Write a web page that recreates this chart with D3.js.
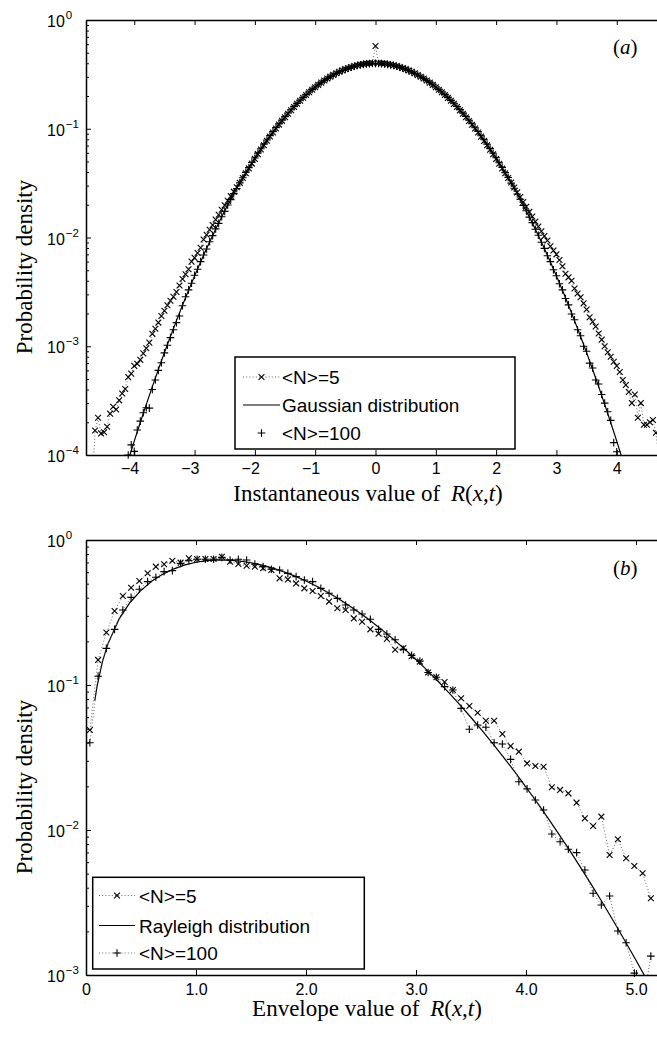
<!DOCTYPE html>
<html>
<head>
<meta charset="utf-8">
<script src="https://cdn.jsdelivr.net/npm/d3@7"></script>
<style>
  body { margin: 0; background: #fff; }
  svg { display: block; }
  text { white-space: pre; }
</style>
</head>
<body>
<svg id="fig" width="657" height="1037"></svg>
<script>
// ---------- (a) instantaneous value: histogram bin centres ----------
const instBins = [
  -4.70,-4.65,-4.60,-4.55,-4.50,-4.45,-4.40,-4.35,-4.30,-4.25,
  -4.20,-4.15,-4.10,-4.05,-4.00,-3.95,-3.90,-3.85,-3.80,-3.75,
  -3.70,-3.65,-3.60,-3.55,-3.50,-3.45,-3.40,-3.35,-3.30,-3.25,
  -3.20,-3.15,-3.10,-3.05,-3.00,-2.95,-2.90,-2.85,-2.80,-2.75,
  -2.70,-2.65,-2.60,-2.55,-2.50,-2.45,-2.40,-2.35,-2.30,-2.25,
  -2.20,-2.15,-2.10,-2.05,-2.00,-1.95,-1.90,-1.85,-1.80,-1.75,
  -1.70,-1.65,-1.60,-1.55,-1.50,-1.45,-1.40,-1.35,-1.30,-1.25,
  -1.20,-1.15,-1.10,-1.05,-1.00,-0.95,-0.90,-0.85,-0.80,-0.75,
  -0.70,-0.65,-0.60,-0.55,-0.50,-0.45,-0.40,-0.35,-0.30,-0.25,
  -0.20,-0.15,-0.10,-0.05, 0.00, 0.05, 0.10, 0.15, 0.20, 0.25,
   0.30, 0.35, 0.40, 0.45, 0.50, 0.55, 0.60, 0.65, 0.70, 0.75,
   0.80, 0.85, 0.90, 0.95, 1.00, 1.05, 1.10, 1.15, 1.20, 1.25,
   1.30, 1.35, 1.40, 1.45, 1.50, 1.55, 1.60, 1.65, 1.70, 1.75,
   1.80, 1.85, 1.90, 1.95, 2.00, 2.05, 2.10, 2.15, 2.20, 2.25,
   2.30, 2.35, 2.40, 2.45, 2.50, 2.55, 2.60, 2.65, 2.70, 2.75,
   2.80, 2.85, 2.90, 2.95, 3.00, 3.05, 3.10, 3.15, 3.20, 3.25,
   3.30, 3.35, 3.40, 3.45, 3.50, 3.55, 3.60, 3.65, 3.70, 3.75,
   3.80, 3.85, 3.90, 3.95, 4.00, 4.05, 4.10, 4.15, 4.20, 4.25,
   4.30, 4.35, 4.40, 4.45, 4.50, 4.55, 4.60, 4.65, 4.70
];

// <N>=5 probability density
const instN5 = [
  0.000050,0.000168,0.000220,0.000158,0.000162,0.000182,0.000240,0.000278,0.000262,0.000318,
  0.000368,0.000405,0.000520,0.000560,0.000660,0.000690,0.000750,0.000860,0.000960,0.00108,
  0.00130,0.00145,0.00165,0.00190,0.00212,0.00238,0.00262,0.00285,0.00315,0.00362,
  0.00415,0.00460,0.00510,0.00600,0.00650,0.00720,0.00805,0.00960,0.0106,0.0118,
  0.0130,0.0146,0.0162,0.0180,0.0198,0.0218,0.0240,0.0264,0.0290,0.0318,
  0.0352,0.0390,0.0432,0.0478,0.0528,0.0584,0.0644,0.0706,0.0775,0.0848,
  0.0925,0.1006,0.1092,0.1182,0.1276,0.1374,0.1478,0.1585,0.1695,0.1808,
  0.1925,0.2043,0.2164,0.2287,0.2410,0.2533,0.2656,0.2778,0.2898,0.3014,
  0.3128,0.3238,0.3342,0.3442,0.3535,0.3622,0.3702,0.3775,0.3840,0.3895,
  0.3940,0.3978,0.4005,0.4030,0.577,0.4028,0.4006,0.3976,0.3938,0.3893,
  0.3838,0.3774,0.3700,0.3620,0.3533,0.3440,0.3340,0.3236,0.3126,0.3012,
  0.2896,0.2776,0.2654,0.2531,0.2408,0.2285,0.2162,0.2041,0.1923,0.1806,
  0.1693,0.1583,0.1476,0.1372,0.1274,0.1180,0.1090,0.1004,0.0923,0.0846,
  0.0773,0.0705,0.0642,0.0582,0.0527,0.0477,0.0431,0.0390,0.0353,0.0320,
  0.0288,0.0260,0.0236,0.0212,0.0192,0.0172,0.0156,0.0140,0.0126,0.0114,
  0.0103,0.00940,0.00830,0.00760,0.00700,0.00620,0.00545,0.00465,0.00430,0.00400,
  0.00340,0.00305,0.00282,0.00248,0.00218,0.00185,0.00168,0.00152,0.00131,0.00115,
  0.00100,0.00088,0.00080,0.00072,0.00066,0.00058,0.00049,0.00044,0.00038,0.00030,
  0.00036,0.00022,0.00030,0.00019,0.00019,0.00020,0.00021,0.00016,0.00009
];

// <N>=100 probability density (null where no sample reaches the axis range)
const instN100 = [
  null,null,null,null,null,null,null,null,null,null,
  null,null,0.000100,0.000124,0.000108,0.000170,0.000205,0.000245,0.000272,0.000270,
  0.000400,0.000490,0.000600,0.000706,0.000870,0.00102,0.00120,0.00142,0.00165,0.00190,
  0.00236,0.00285,0.00330,0.00380,0.00450,0.00510,0.00600,0.00690,0.00785,0.00915,
  0.0104,0.0120,0.0135,0.0155,0.0174,0.0199,0.0223,0.0253,0.0282,0.0318,
  0.0354,0.0397,0.0439,0.0489,0.0539,0.0597,0.0655,0.0722,0.0789,0.0864,
  0.0940,0.1024,0.1108,0.1201,0.1294,0.1395,0.1496,0.1605,0.1713,0.1827,
  0.1941,0.2060,0.2178,0.2300,0.2419,0.2542,0.2660,0.2781,0.2896,0.3012,
  0.3122,0.3231,0.3331,0.3430,0.3520,0.3606,0.3682,0.3753,0.3813,0.3868,
  0.3909,0.3946,0.3969,0.3985,0.3988,0.3983,0.3971,0.3944,0.3911,0.3866,
  0.3815,0.3751,0.3684,0.3604,0.3522,0.3428,0.3333,0.3229,0.3124,0.3010,
  0.2898,0.2779,0.2662,0.2540,0.2421,0.2298,0.2180,0.2058,0.1943,0.1825,
  0.1715,0.1603,0.1498,0.1393,0.1296,0.1199,0.1110,0.1022,0.0942,0.0862,
  0.0791,0.0720,0.0657,0.0595,0.0541,0.0487,0.0441,0.0395,0.0356,0.0316,
  0.0284,0.0251,0.0225,0.0197,0.0176,0.0154,0.0137,0.0119,0.0105,0.00905,
  0.00795,0.00680,0.00600,0.00505,0.00445,0.00375,0.00330,0.00275,0.00240,0.00198,
  0.00175,0.00142,0.00125,0.00100,0.00090,0.00070,0.00063,0.00049,0.00045,0.00036,
  0.00030,0.00025,0.000208,0.000130,0.000107,null,null,null,null,null,
  null,null,null,null,null,null,null,null,null
];

// Gaussian reference curve
const gaussX = [
  -4.2,-4.1,-4.0,-3.9,-3.8,-3.7,-3.6,-3.5,-3.4,-3.3,-3.2,-3.1,-3.0,-2.9,-2.8,-2.7,-2.6,-2.5,-2.4,-2.3,
  -2.2,-2.1,-2.0,-1.9,-1.8,-1.7,-1.6,-1.5,-1.4,-1.3,-1.2,-1.1,-1.0,-0.9,-0.8,-0.7,-0.6,-0.5,-0.4,-0.3,
  -0.2,-0.1,0.0,0.1,0.2,0.3,0.4,0.5,0.6,0.7,0.8,0.9,1.0,1.1,1.2,1.3,1.4,1.5,1.6,1.7,
  1.8,1.9,2.0,2.1,2.2,2.3,2.4,2.5,2.6,2.7,2.8,2.9,3.0,3.1,3.2,3.3,3.4,3.5,3.6,3.7,
  3.8,3.9,4.0,4.1,4.2
];
const gaussY = [
  0.0000589,0.0000893,0.000134,0.000199,0.000292,0.000425,0.000612,0.000873,0.00123,0.00172,
  0.00238,0.00327,0.00443,0.00595,0.00792,0.01042,0.01358,0.0175,0.0224,0.0283,
  0.0355,0.0440,0.0540,0.0656,0.0790,0.0940,0.1109,0.1295,0.1497,0.1714,
  0.1942,0.2179,0.2420,0.2661,0.2897,0.3123,0.3332,0.3521,0.3683,0.3814,
  0.3910,0.3970,0.3989,0.3970,0.3910,0.3814,0.3683,0.3521,0.3332,0.3123,
  0.2897,0.2661,0.2420,0.2179,0.1942,0.1714,0.1497,0.1295,0.1109,0.0940,
  0.0790,0.0656,0.0540,0.0440,0.0355,0.0283,0.0224,0.0175,0.01358,0.01042,
  0.00792,0.00595,0.00443,0.00327,0.00238,0.00172,0.00123,0.000873,0.000612,0.000425,
  0.000292,0.000199,0.000134,0.0000893,0.0000589
];

const instTicks = [-4, -3, -2, -1, 0, 1, 2, 3, 4];

// ---------- (b) envelope value ----------
const envBins = [
  0.035,0.110,0.185,0.260,0.335,0.410,0.485,0.560,0.635,0.710,
  0.785,0.860,0.935,1.010,1.085,1.160,1.235,1.310,1.385,1.460,
  1.535,1.610,1.685,1.760,1.835,1.910,1.985,2.060,2.135,2.210,
  2.285,2.360,2.435,2.510,2.585,2.660,2.735,2.810,2.885,2.960,
  3.035,3.110,3.185,3.260,3.335,3.410,3.485,3.560,3.635,3.710,
  3.785,3.860,3.935,4.010,4.085,4.160,4.235,4.310,4.385,4.460,
  4.535,4.610,4.685,4.760,4.835,4.910,4.985,5.060,5.135
];
const envN5 = [
  0.049,0.149,0.230,0.324,0.411,0.469,0.521,0.589,0.655,0.680,
  0.720,0.698,0.748,0.739,0.739,0.739,0.767,0.709,0.683,0.665,
  0.655,0.638,0.621,0.544,0.535,0.502,0.464,0.445,0.411,0.376,
  0.338,0.329,0.288,0.273,0.242,0.226,0.208,0.175,0.180,0.158,
  0.145,0.122,0.113,0.105,0.0924,0.081,0.0717,0.0644,0.0567,0.0567,
  0.0459,0.0379,0.0347,0.0288,0.0276,0.0273,0.0197,0.0189,0.0179,0.01544,
  0.01203,0.01066,0.01236,0.00672,0.00863,0.00638,0.00565,0.00503,0.00338
];
const envN100 = [
  0.040,0.115,0.179,0.242,0.329,0.402,0.457,0.516,0.553,0.605,
  0.615,0.690,0.720,0.736,0.736,0.736,0.759,0.728,0.736,0.728,
  0.683,0.655,0.628,0.621,0.589,0.559,0.530,0.516,0.464,0.429,
  0.396,0.356,0.329,0.309,0.284,0.242,0.225,0.205,0.176,0.160,
  0.146,0.122,0.113,0.0974,0.0924,0.069,0.0495,0.053,0.0511,0.040,
  0.0392,0.0307,0.0215,0.0192,0.0161,0.01374,0.00938,0.0083,0.00736,0.00698,
  0.0053,0.00366,0.00304,0.00351,0.00201,0.00167,0.00103,0.0006,0.00135
];

// Rayleigh reference curve
const rayX = [
  0.08,0.1,0.15,0.2,0.3,0.4,0.5,0.6,0.7,0.8,0.9,1.0,1.1,1.2,1.3,1.4,1.5,1.6,1.7,1.8,
  1.9,2.0,2.1,2.2,2.3,2.4,2.5,2.6,2.7,2.8,2.9,3.0,3.1,3.2,3.3,3.4,3.5,3.6,3.7,3.8,
  3.9,4.0,4.1,4.2,4.3,4.4,4.5,4.6,4.7,4.8,4.9,5.0,5.1
];
const rayY = [
  0.0780,0.0974,0.1455,0.1929,0.2845,0.3707,0.4498,0.5206,0.5818,0.6327,
  0.673,0.7023,0.7208,0.7288,0.7268,0.7158,0.6970,0.6710,0.6392,0.6033,
  0.5634,0.5212,0.4779,0.4344,0.3914,0.3496,0.3097,0.2721,0.2372,0.2052,
  0.1761,0.1498,0.1266,0.1061,0.0883,0.0729,0.0597,0.0486,0.0392,0.03147,
  0.02503,0.01978,0.01551,0.01208,0.00934,0.00717,0.00546,0.00413,0.00311,0.00232,
  0.001717,0.001263,0.000923
];

const envTicks = [0, 1, 2, 3, 4, 5];
const envTickLabels = ["0", "1.0", "2.0", "3.0", "4.0", "5.0"];

// ---------- drawing ----------
const svg = d3.select('#fig');
const SANS = '"Liberation Sans", Arial, Helvetica, sans-serif';
const SERIF = '"Liberation Serif", "Times New Roman", Times, serif';
const MINUS = '\u2212';

const markerPath = {
  cross: 'M-2.9,-2.9L2.9,2.9M-2.9,2.9L2.9,-2.9',
  plus: 'M-3.8,0H3.8M0,-3.8V3.8'
};

function toPairs(xs, ys) { return xs.map((v, i) => [v, ys[i]]); }

function drawPanel(p) {
  const x = d3.scaleLinear().domain(p.xDomain).range(p.xRange);
  const y = d3.scaleLog().domain(p.yDomain).range(p.yRange);
  const [x0, x1] = p.xRange;
  const [yB, yT] = p.yRange;
  const g = svg.append('g');

  const clipId = p.id + '-clip';
  svg.append('clipPath').attr('id', clipId)
    .append('rect').attr('x', x0).attr('y', yT).attr('width', x1 - x0).attr('height', yB - yT);

  const plot = g.append('g');
  const lineGen = d3.line().defined(d => d[1] != null).x(d => x(d[0])).y(d => y(d[1]));

  p.series.forEach(s => {
    const pts = toPairs(s.xs, s.ys);
    if (s.line) {
      plot.append('path')
        .datum(pts)
        .attr('clip-path', `url(#${clipId})`)
        .attr('fill', 'none')
        .attr('stroke', s.line === 'dotted' ? '#555' : '#000')
        .attr('stroke-width', s.line === 'dotted' ? 0.9 : 1.2)
        .attr('stroke-dasharray', s.line === 'dotted' ? '1 2.2' : null)
        .attr('d', lineGen);
    }
    if (s.marker) {
      const vis = pts.filter(d => d[1] != null && d[1] >= p.yDomain[0] * 0.995 && d[1] <= p.yDomain[1]
        && d[0] >= p.xDomain[0] && d[0] <= p.xDomain[1]);
      plot.append('g').selectAll('path').data(vis).join('path')
        .attr('transform', d => `translate(${x(d[0])},${y(d[1])})`)
        .attr('d', markerPath[s.marker])
        .attr('fill', 'none').attr('stroke', '#000').attr('stroke-width', 1.1);
    }
  });

  // y ticks: decades with labels, minors without
  const e0 = Math.round(Math.log10(p.yDomain[0]));
  const majors = d3.range(e0, 1).map(e => Math.pow(10, e));
  const minors = [];
  d3.range(e0, 0).forEach(e => { for (let m = 2; m <= 9; m++) minors.push(m * Math.pow(10, e)); });

  const styleAxis = sel => {
    sel.select('.domain').attr('stroke', '#000').attr('stroke-width', 1.5);
    sel.selectAll('.tick line').attr('stroke', '#000').attr('stroke-width', 1);
  };

  // bottom axis with labels
  const xb = g.append('g').attr('transform', `translate(0,${yB})`)
    .call(d3.axisBottom(x).tickValues(p.xTicks).tickSizeInner(-5).tickSizeOuter(0)
      .tickPadding(p.xLabelPad).tickFormat(p.xFormat));
  styleAxis(xb);
  xb.selectAll('.tick text')
    .attr('font-family', SANS).attr('font-size', 16).attr('fill', '#000')
    .attr('dx', d => d < 0 ? -4.7 : 0);

  // top axis, ticks only
  const xt = g.append('g').attr('transform', `translate(0,${yT})`)
    .call(d3.axisTop(x).tickValues(p.xTicks).tickSizeInner(-5).tickSizeOuter(0).tickFormat(''));
  styleAxis(xt);

  // left axis
  const yl = g.append('g').attr('transform', `translate(${x0},0)`)
    .call(d3.axisLeft(y).tickValues(majors).tickSizeInner(-5).tickSizeOuter(0));
  styleAxis(yl);
  yl.selectAll('.tick text').each(function (d) {
    const t = d3.select(this);
    const e = Math.round(Math.log10(d));
    t.text(null)
      .attr('text-anchor', 'start').attr('x', -39).attr('dy', null).attr('y', 6.7)
      .attr('font-family', SANS).attr('fill', '#000');
    t.append('tspan').attr('font-size', 16).text('10');
    t.append('tspan').attr('font-size', 11.5).attr('dx', 1).attr('dy', -8.2)
      .text(e < 0 ? MINUS + Math.abs(e) : String(e));
  });
  const ylm = g.append('g').attr('transform', `translate(${x0},0)`)
    .call(d3.axisLeft(y).tickValues(minors).tickSizeInner(-3).tickSizeOuter(0).tickFormat(''));
  styleAxis(ylm);
  ylm.select('.domain').remove();

  // x title
  const xt2 = g.append('text').attr('x', p.xTitlePos[0]).attr('y', p.xTitlePos[1])
    .attr('text-anchor', 'middle').attr('font-family', SERIF).attr('font-size', 23).attr('fill', '#000');
  xt2.append('tspan').text(p.xTitle + ' ');
  xt2.append('tspan').attr('dx', 5).attr('font-style', 'italic').text('R');
  xt2.append('tspan').text('(');
  xt2.append('tspan').attr('font-style', 'italic').text('x');
  xt2.append('tspan').text(',');
  xt2.append('tspan').attr('font-style', 'italic').text('t');
  xt2.append('tspan').text(')');

  // y title
  g.append('text')
    .attr('transform', `translate(${p.yTitlePos[0]},${p.yTitlePos[1]}) rotate(-90)`)
    .attr('text-anchor', 'middle').attr('font-family', SERIF).attr('font-size', 23).attr('fill', '#000')
    .text('Probability density');

  // panel tag
  const tag = g.append('text').attr('x', p.tagPos[0]).attr('y', p.tagPos[1])
    .attr('font-family', SERIF).attr('font-size', 21).attr('fill', '#000');
  tag.append('tspan').text('(');
  tag.append('tspan').attr('font-style', 'italic').text(p.tag);
  tag.append('tspan').text(')');

  // legend
  const L = p.legend;
  const lg = g.append('g');
  lg.append('rect').attr('x', L.x).attr('y', L.y).attr('width', L.w).attr('height', L.h)
    .attr('fill', '#fff').attr('stroke', '#000').attr('stroke-width', 1.5);
  L.rows.forEach(r => {
    if (r.line) {
      lg.append('line').attr('x1', L.lx0).attr('x2', L.lx1).attr('y1', r.y).attr('y2', r.y)
        .attr('stroke', r.line === 'dotted' ? '#555' : '#000')
        .attr('stroke-width', r.line === 'dotted' ? 0.9 : 1.2)
        .attr('stroke-dasharray', r.line === 'dotted' ? '1 2.2' : null);
    }
    if (r.marker) {
      lg.append('path').attr('transform', `translate(${(L.lx0 + L.lx1) / 2},${r.y})`)
        .attr('d', markerPath[r.marker]).attr('fill', 'none').attr('stroke', '#000').attr('stroke-width', 1.1);
    }
    lg.append('text').attr('x', L.tx).attr('y', r.y + 7)
      .attr('font-family', SANS).attr('font-size', 19).attr('fill', '#000').text(r.label);
  });
}

// panel (a)
drawPanel({
  id: 'pa',
  xDomain: [-4.8, 4.8], xRange: [86, 665],
  yDomain: [1e-4, 1], yRange: [455, 20],
  xTicks: instTicks,
  xFormat: d => (d < 0 ? MINUS : '') + Math.abs(d),
  xLabelPad: 7.5,
  xTitle: 'Instantaneous value of', xTitlePos: [368, 501],
  yTitlePos: [32, 267],
  tag: 'a', tagPos: [613, 54],
  series: [
    { xs: gaussX, ys: gaussY, line: 'solid' },
    { xs: instBins, ys: instN5, line: 'dotted', marker: 'cross' },
    { xs: instBins, ys: instN100, marker: 'plus' }
  ],
  legend: {
    x: 235, y: 357, w: 280, h: 92, lx0: 243, lx1: 280, tx: 282,
    rows: [
      { y: 377, line: 'dotted', marker: 'cross', label: '<N>=5' },
      { y: 405, line: 'solid', label: 'Gaussian distribution' },
      { y: 433, marker: 'plus', label: '<N>=100' }
    ]
  }
});

// panel (b)
drawPanel({
  id: 'pb',
  xDomain: [0, 5.2], xRange: [86, 658],
  yDomain: [1e-3, 1], yRange: [975, 540],
  xTicks: envTicks,
  xFormat: (d, i) => envTickLabels[i],
  xLabelPad: 8.6,
  xTitle: 'Envelope value of', xTitlePos: [367, 1016],
  yTitlePos: [32, 787],
  tag: 'b', tagPos: [613, 575],
  series: [
    { xs: rayX, ys: rayY, line: 'solid' },
    { xs: envBins, ys: envN5, line: 'dotted', marker: 'cross' },
    { xs: envBins, ys: envN100, line: 'dotted', marker: 'plus' }
  ],
  legend: {
    x: 92.7, y: 877.3, w: 271.6, h: 91.7, lx0: 99, lx1: 135, tx: 139,
    rows: [
      { y: 895.5, line: 'dotted', marker: 'cross', label: '<N>=5' },
      { y: 925.5, line: 'solid', label: 'Rayleigh distribution' },
      { y: 953, line: 'dotted', marker: 'plus', label: '<N>=100' }
    ]
  }
});
</script>
</body>
</html>
